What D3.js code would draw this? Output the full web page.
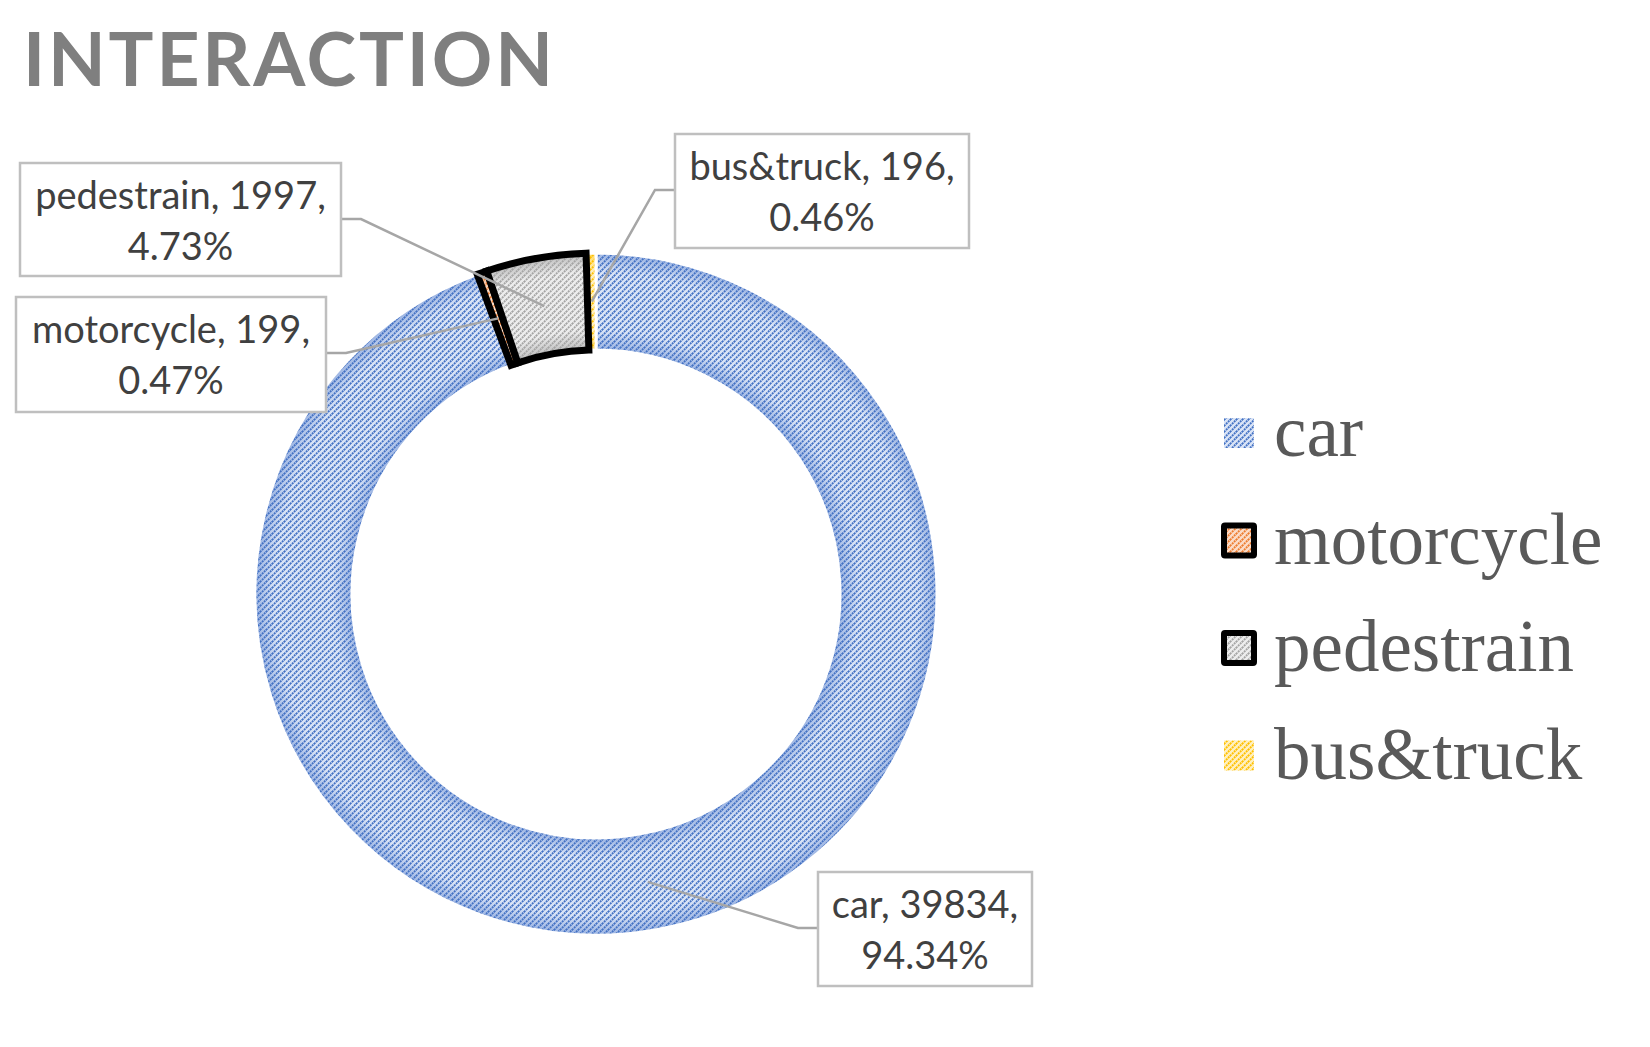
<!DOCTYPE html>
<html>
<head>
  <meta charset="utf-8">
  <script src="https://d3js.org/d3.v7.min.js"></script>
  <style>
    body { margin: 0; background: #fff; }
    svg { display: block; }
  </style>
</head>
<body>
<script>
  // chart data
  var categories = ["car", "motorcycle", "pedestrain", "bus&truck"];
  var counts = [39834, 199, 1997, 196];
  var chartTitle = "INTERACTION";

  // look
  var dashColors = ["#4472c4", "#ed7d31", "#a5a5a5", "#ffc000"];
  var edgeColors = ["#9ab3e2", "#f3b58c", "#bdbdbd", "#ffd860"];
  var midColors  = ["#dae4f6", "#fbdcc8", "#ededed", "#fff0c0"];
  var outlined   = [false, true, true, false];

  var width = 1650, height = 1047;
  var cx = 596, cy = 594, outerR = 341, innerR = 244;

  // where the data label boxes sit (x, y, w, h) and which side the leader enters
  var labelBoxes = [
    { x: 818, y: 872, w: 214, h: 114, side: "left" },
    { x: 16,  y: 297, w: 310, h: 115, side: "right" },
    { x: 20,  y: 163, w: 321, h: 113, side: "right" },
    { x: 675, y: 134, w: 294, h: 114, side: "left" }
  ];

  var svg = d3.select("body").append("svg")
      .attr("width", width)
      .attr("height", height);

  var defs = svg.append("defs");

  categories.forEach(function (c, i) {
    // shading across the ring band (used inside the translated chart group)
    var g = defs.append("radialGradient")
        .attr("id", "shade" + i)
        .attr("gradientUnits", "userSpaceOnUse")
        .attr("cx", 0).attr("cy", 0).attr("r", outerR);
    var t = innerR / outerR;
    g.append("stop").attr("offset", t).attr("stop-color", edgeColors[i]);
    g.append("stop").attr("offset", t + (1 - t) * 0.2).attr("stop-color", midColors[i]);
    g.append("stop").attr("offset", t + (1 - t) * 0.8).attr("stop-color", midColors[i]);
    g.append("stop").attr("offset", 1).attr("stop-color", edgeColors[i]);

    // dotted upward diagonals (3 dashes per tile diagonal so tiles join up)
    var p = defs.append("pattern")
        .attr("id", "hatch" + i)
        .attr("patternUnits", "userSpaceOnUse")
        .attr("width", 6).attr("height", 6);
    [[0, 6, 6, 0], [-3, 3, 3, -3], [3, 9, 9, 3]].forEach(function (l) {
      p.append("line")
        .attr("x1", l[0]).attr("y1", l[1]).attr("x2", l[2]).attr("y2", l[3])
        .attr("stroke", dashColors[i])
        .attr("stroke-width", 1.8)
        .attr("stroke-dasharray", "2 0.828");
    });
  });

  // title
  svg.append("text")
      .attr("x", 23)
      .attr("y", 86)
      .attr("textLength", 530)
      .attr("lengthAdjust", "spacing")
      .style("font-family", "Lato, 'Open Sans', sans-serif")
      .style("font-weight", "bold")
      .style("font-size", "75px")
      .style("fill", "#7f7f7f")
      .text(chartTitle);

  // donut
  var pie = d3.pie().sort(null).value(function (d) { return d; });
  var arcs = pie(counts);
  var arc = d3.arc().innerRadius(innerR).outerRadius(outerR);
  var total = d3.sum(counts);

  var chart = svg.append("g").attr("transform", "translate(" + cx + "," + cy + ")");

  // plain slices first, outlined ones on top
  [0, 3, 1, 2].forEach(function (i) {
    var d = arcs[i];
    chart.append("path")
        .attr("d", arc(d))
        .attr("fill", "url(#shade" + i + ")");
    chart.append("path")
        .attr("d", arc(d))
        .attr("fill", "url(#hatch" + i + ")")
        .attr("stroke", outlined[i] ? "#000" : "#fff")
        .attr("stroke-width", outlined[i] ? 7 : 3);
  });

  // data labels with leader lines
  var labels = svg.append("g");
  arcs.forEach(function (d, i) {
    var b = labelBoxes[i];
    var c = arc.centroid(d);
    var end = [cx + c[0], cy + c[1]];
    var attachX = b.side === "left" ? b.x : b.x + b.w;
    var elbowX = b.side === "left" ? b.x - 20 : b.x + b.w + 20;
    var attachY = b.y + 56;

    labels.append("polyline")
        .attr("points", [[attachX, attachY], [elbowX, attachY], end].map(function (p) { return p.join(","); }).join(" "))
        .attr("fill", "none")
        .attr("stroke", "#a6a6a6")
        .attr("stroke-width", 2.5);

    labels.append("rect")
        .attr("x", b.x).attr("y", b.y)
        .attr("width", b.w).attr("height", b.h)
        .attr("fill", "#fff")
        .attr("stroke", "#bfbfbf")
        .attr("stroke-width", 2.5);

    var pct = (d.data / total * 100).toFixed(2) + "%";
    var lines = [categories[i] + ", " + d.data + ",", pct];
    labels.selectAll(null)
        .data(lines)
        .enter()
        .append("text")
          .attr("x", b.x + b.w / 2)
          .attr("y", function (t, k) { return b.y + 46 + k * 51; })
          .attr("text-anchor", "middle")
          .style("font-family", "Lato, 'Open Sans', sans-serif")
          .style("font-size", "38px")
          .style("fill", "#404040")
          .text(function (t) { return t; });
  });

  // legend
  var legend = svg.append("g");
  categories.forEach(function (c, i) {
    var y = 433 + i * 107.5;
    legend.append("rect")
        .attr("x", 1224).attr("y", y - 15)
        .attr("width", 30).attr("height", 30)
        .attr("fill", midColors[i]);
    legend.append("rect")
        .attr("x", 1224).attr("y", y - 15)
        .attr("width", 30).attr("height", 30)
        .attr("fill", "url(#hatch" + i + ")")
        .attr("stroke", outlined[i] ? "#000" : "none")
        .attr("stroke-width", 6)
        .attr("rx", 1);
    legend.append("text")
        .attr("x", 1274)
        .attr("y", y + 23)
        .style("font-family", "'Liberation Serif', 'Times New Roman', serif")
        .style("font-size", "73px")
        .style("fill", "#595959")
        .text(c);
  });
</script>
</body>
</html>
